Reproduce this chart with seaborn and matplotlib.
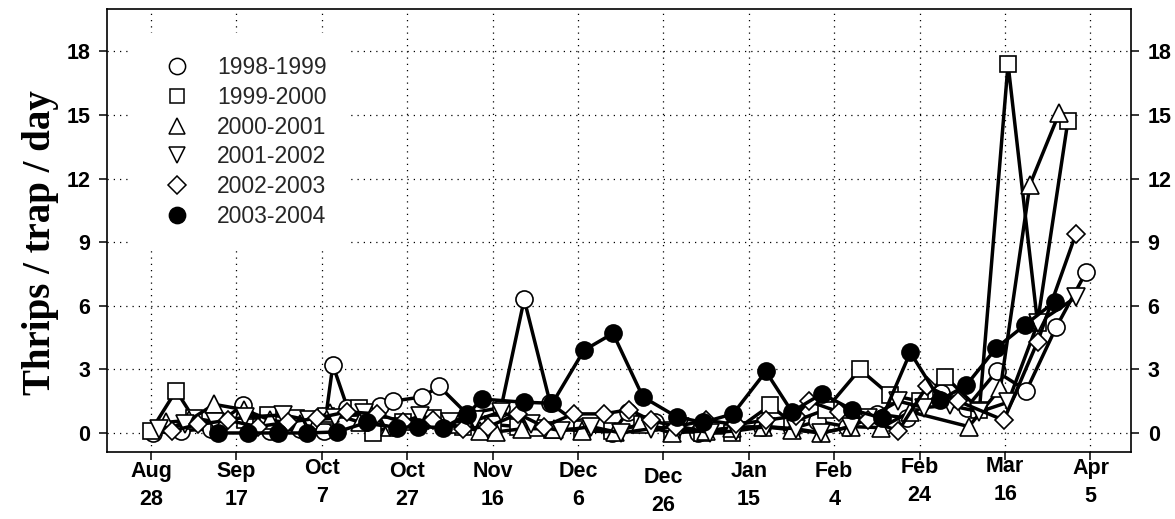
import matplotlib
matplotlib.use("Agg")
import matplotlib.pyplot as plt
import matplotlib.transforms as mtrans
from matplotlib.lines import Line2D
import pandas as pd
import seaborn as sns

# Days counted from Aug 28
tick_days = [0, 20, 40, 60, 80, 100, 120, 140, 160, 180, 200, 220]
tick_labels = ["Aug\n28", "Sep\n17", "Oct\n7", "Oct\n27", "Nov\n16", "Dec\n6",
               "Dec\n26", "Jan\n15", "Feb\n4", "Feb\n24", "Mar\n16", "Apr\n5"]
y_ticks = [0, 3, 6, 9, 12, 15, 18]

seasons = ["1998-1999", "1999-2000", "2000-2001", "2001-2002", "2002-2003", "2003-2004"]

days_9899 = [0.5, 7, 14, 21.5, 28, 35, 40.5, 42.6, 46, 53.6, 56.6, 63.5, 67.5, 74, 82, 87.4,
             93.5, 101, 108, 111.7, 118, 128, 136, 143, 150, 156, 163, 170, 177, 185, 191,
             198, 205, 212, 219]
thrips_9899 = [0.0, 0.1, 0.2, 1.3, 0.1, 0.2, 0.1, 3.2, 1.2, 1.25, 1.5, 1.7, 2.2, 0.9, 1.2, 6.3,
               1.4, 0.3, 0.0, 1.0, 0.5, 0.0, 0.25, 0.3, 0.2, 0.55, 0.3, 0.9, 0.7, 1.9, 1.2,
               2.9, 2.0, 5.0, 7.6]

days_9900 = [0, 5.9, 10, 16, 22, 27.5, 34, 41, 48.7, 52, 59, 66, 73, 80, 86, 90, 94, 101, 108,
             115, 122, 129, 136, 145, 150, 158, 166, 173, 180, 186, 194, 200.7, 207.6, 214.7]
thrips_9900 = [0.1, 2.0, 0.7, 0.5, 0.6, 0.85, 0.7, 0.8, 1.2, 0.0, 0.5, 0.7, 0.3, 0.4, 0.3, 0.25,
               0.15, 0.2, 0.1, 0.4, 0.15, 0.0, 0.0, 1.3, 0.5, 1.1, 3.0, 1.8, 1.5, 2.65, 1.1,
               17.4, 5.2, 14.7]

days_0001 = [3.5, 9, 14.8, 21.8, 28, 35, 42, 49, 56, 63, 70, 77, 80.8, 87, 94.4, 101, 108.7,
             114.5, 122, 130, 136, 143.3, 150, 157, 164, 171, 177.8, 191.5, 198.9, 205.8, 212.7]
thrips_0001 = [0.5, 0.6, 1.35, 1.1, 0.6, 0.4, 0.95, 0.5, 0.3, 0.6, 0.4, 0.1, 0.05, 0.2, 0.2,
               0.1, 0.05, 0.4, 0.0, 0.1, 0.25, 0.3, 0.15, 0.0, 0.3, 0.25, 1.0, 0.3, 2.1, 11.7, 15.1]

days_0102 = [2, 8, 15, 22, 31, 37, 43, 50, 56, 63, 70, 76, 82, 89, 96, 103, 110, 117, 124, 131,
             137, 144, 151, 157, 164, 168, 175, 181, 187, 194, 200.7, 207.7, 216.6]
thrips_0102 = [0.2, 0.4, 0.5, 0.75, 0.85, 0.6, 0.7, 0.95, 0.3, 0.8, 0.5, 0.6, 1.0, 0.4, 0.1,
               0.3, 0.0, 0.2, 0.3, 0.0, 0.1, 0.3, 0.2, 0.0, 0.3, 0.7, 1.5, 1.2, 1.3, 1.0,
               1.45, 5.2, 6.4]

days_0203 = [5, 11, 18, 25, 32, 39, 46, 53, 59, 66, 73, 79, 86, 92, 99, 106, 112, 117, 123, 130,
             137, 144, 151, 154, 161, 168, 175, 181.7, 189, 199.7, 207.6, 216.6]
thrips_0203 = [0.1, 0.4, 0.6, 0.3, 0.5, 0.7, 1.0, 0.9, 0.5, 0.6, 0.2, 0.3, 0.9, 0.3, 0.9, 0.9,
               1.1, 0.6, 0.3, 0.6, 0.4, 0.6, 0.8, 1.5, 1.0, 0.6, 0.1, 2.2, 1.5, 0.6, 4.3, 9.4]

days_0304 = [15.7, 22.7, 29.7, 36.5, 43.6, 50.6, 57.6, 62.5, 68.5, 74.0, 77.5, 87.3, 94.0,
             101.4, 108.2, 115.2, 123.2, 129.3, 136.3, 144.0, 150.1, 157.1, 164.2, 171.2,
             177.8, 184.8, 190.9, 197.9, 204.7, 211.7]
thrips_0304 = [0.0, 0.0, 0.0, 0.0, 0.05, 0.5, 0.25, 0.3, 0.25, 0.85, 1.6, 1.45, 1.4, 3.9, 4.7,
               1.7, 0.75, 0.5, 0.9, 2.9, 1.0, 1.85, 1.1, 0.7, 3.8, 1.55, 2.25, 4.0, 5.1, 6.2]

all_days = [days_9899, days_9900, days_0001, days_0102, days_0203, days_0304]
all_thrips = [thrips_9899, thrips_9900, thrips_0001, thrips_0102, thrips_0203, thrips_0304]

frames = []
for name, d, t in zip(seasons, all_days, all_thrips):
    frames.append(pd.DataFrame({"day": d, "thrips": t, "season": name}))
df = pd.concat(frames, ignore_index=True)

# marker shape, size and face colour per season
markers = {"1998-1999": ("o", 12.3, "white"),
           "1999-2000": ("s", 11.0, "white"),
           "2000-2001": ("^", 12.8, "white"),
           "2001-2002": ("v", 12.8, "white"),
           "2002-2003": ("D", 9.3, "white"),
           "2003-2004": ("o", 12.3, "black")}

sns.set_theme(style="ticks")
plt.rcParams["font.family"] = ["Liberation Sans", "DejaVu Sans"]

fig = plt.figure(figsize=(11.75, 5.19), dpi=100)
ax = fig.add_axes([0.091, 0.129, 0.9626 - 0.091, 0.9827 - 0.129])

for i, name in enumerate(seasons):
    m, ms, fc = markers[name]
    sub = df[df["season"] == name]
    sns.lineplot(data=sub, x="day", y="thrips", ax=ax, estimator=None, sort=True,
                 color="black", linewidth=2.5, marker=m, markersize=ms,
                 markerfacecolor=fc, markeredgecolor="black", markeredgewidth=1.2,
                 zorder=3 + i)

ax.set_xlim(-10.3, 229.5)
ax.set_ylim(-0.9, 20)
ax.set_xticks(tick_days)
ax.set_xticklabels(tick_labels, fontsize=15.5, fontweight="bold", linespacing=1.45)
ax.set_yticks(y_ticks)
ax.set_yticklabels([str(v) for v in y_ticks], fontsize=15.5, fontweight="bold")
ax.tick_params(axis="both", direction="out", length=6, width=1.1, color="black",
               labelcolor="black")
ax.tick_params(axis="y", left=True, right=True, labelleft=True, labelright=True, pad=6)
ax.tick_params(axis="x", bottom=True, top=False, pad=0.5)

# small vertical nudges of the date labels
nudges = [0, 0, -2, 0, 0, 0, 4, 0, 0, -3, -4, -2]
for lab, dy in zip(ax.get_xticklabels(), nudges):
    lab.set_transform(lab.get_transform() +
                      mtrans.ScaledTranslation(0, -dy / 72, fig.dpi_scale_trans))

ax.grid(True, color="black", linestyle=(0, (1, 4)), linewidth=0.9)
ax.set_axisbelow(True)
for sp in ax.spines.values():
    sp.set_color("black")
    sp.set_linewidth(1.2)

ax.set_xlabel("")
ax.set_ylabel("Thrips / trap / day", fontfamily=["Liberation Serif", "DejaVu Serif"],
              fontweight="bold", fontsize=28, color="black")
ax.yaxis.set_label_coords(-0.047, 0.472)

handles = []
for name in seasons:
    m, ms, fc = markers[name]
    handles.append(Line2D([], [], linestyle="none", marker=m, markersize=ms * 0.95,
                          markerfacecolor=fc, markeredgecolor="black", markeredgewidth=1.1))
leg = ax.legend(handles, seasons, loc="upper left", bbox_to_anchor=(0.0225, 0.946),
                borderaxespad=0, frameon=True, fontsize=16.5, borderpad=1.0,
                handlelength=2.1, handletextpad=0.7, labelspacing=0.3, numpoints=1)
leg.get_frame().set_facecolor("white")
leg.get_frame().set_edgecolor("none")
leg.get_frame().set_alpha(1)
leg.set_zorder(20)

fig.savefig("out.png", dpi=100)
